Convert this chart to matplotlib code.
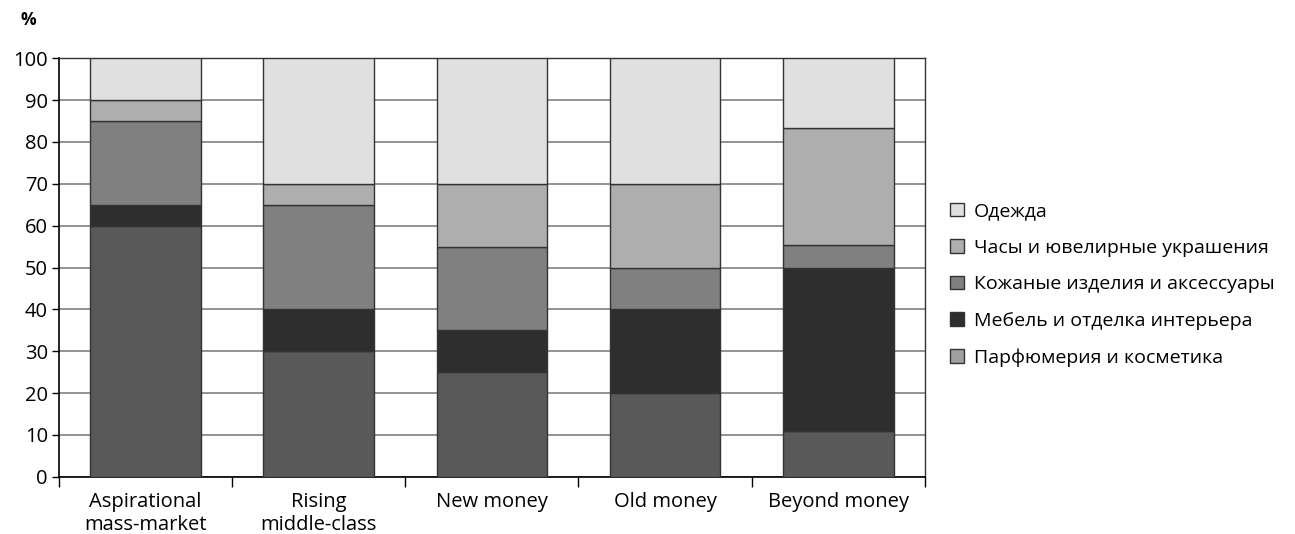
import matplotlib.pyplot as plt
import numpy as np
from matplotlib.patches import Patch

categories = ["Aspirational\nmass-market", "Rising\nmiddle-class", "New money", "Old money", "Beyond money"]
series_names = ["Парфюмерия и косметика", "Мебель и отделка интерьера",
                "Кожаные изделия и аксессуары", "Часы и ювелирные украшения", "Одежда"]
perfume = [60, 30, 25, 20, 11]
furniture = [5, 10, 10, 20, 39]
leather = [20, 25, 20, 10, 5.5]
watches = [5, 5, 15, 20, 27.8]
clothing = [10, 30, 30, 30, 16.7]

colors = ["#595959", "#2e2e2e", "#808080", "#aeaeae", "#e0e0e0"]
legend_colors = ["#a0a0a0", "#2e2e2e", "#808080", "#aeaeae", "#e0e0e0"]

plt.rcParams['font.family'] = ['Open Sans', 'DejaVu Sans']

fig = plt.figure(figsize=(12.95, 5.34), dpi=100)
ax = fig.add_axes([0.0456, 0.107, 0.6685, 0.784])

x = np.arange(len(categories))
bottom = np.zeros(len(categories))
for vals, c in zip([perfume, furniture, leather, watches, clothing], colors):
    ax.bar(x, vals, width=0.64, bottom=bottom, color=c, edgecolor="#333333", linewidth=1, zorder=3)
    bottom += np.array(vals)

ax.set_xlim(-0.5, len(categories) - 0.5)
ax.set_ylim(0, 100)
ax.set_yticks(range(0, 101, 10))
ax.yaxis.grid(True, color="#808080", linewidth=1.2, zorder=0)
ax.set_axisbelow(True)

ax.set_xticks(x)
ax.set_xticklabels(categories, fontsize=14.5, linespacing=1.2)
ax.tick_params(axis='x', length=0, pad=11)
ax.set_xticks(np.arange(-0.5, len(categories), 1), minor=True)
ax.tick_params(axis='x', which='minor', length=7, direction='out', width=1)
ax.tick_params(axis='y', length=5, width=1, labelsize=14.5, pad=3)

for side in ['left', 'bottom']:
    ax.spines[side].set_color('black')
    ax.spines[side].set_linewidth(1.2)
ax.spines['right'].set_color('#333333')
ax.spines['top'].set_color('#333333')
ax.spines['right'].set_linewidth(1.0)
ax.spines['top'].set_linewidth(1.0)

fig.text(0.016, 0.98, "%", fontsize=12.5, fontweight='bold', va='top', ha='left')

handles = [Patch(facecolor=legend_colors[i], edgecolor="#333333", linewidth=1, label=series_names[i])
           for i in range(len(series_names) - 1, -1, -1)]
fig.legend(handles=handles, loc='center left', bbox_to_anchor=(0.72, 0.467), frameon=False,
           fontsize=14, handlelength=0.7, handleheight=0.7, handletextpad=0.55, labelspacing=0.95)

fig.savefig("out.png", dpi=100)
